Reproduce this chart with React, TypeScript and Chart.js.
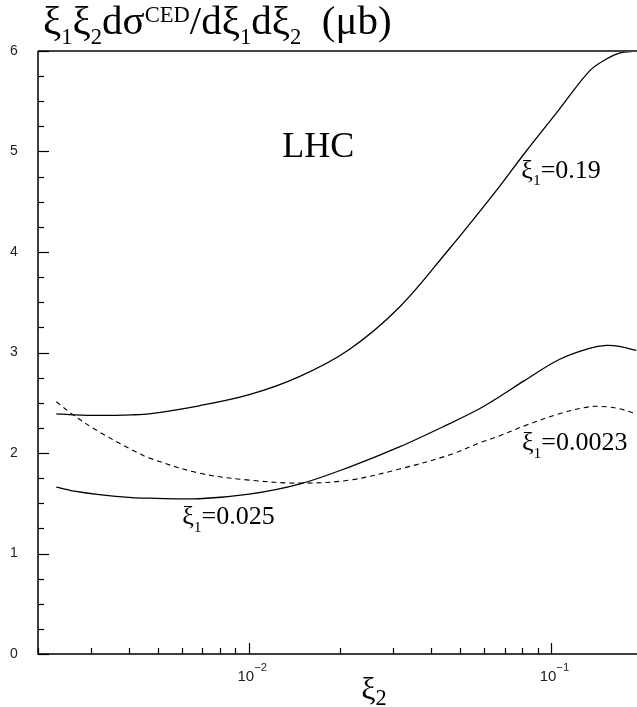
import React, { useEffect, useRef } from 'react';
import { Chart, registerables } from 'chart.js';

Chart.register(...registerables);

// ξ2 sample points (shared by all curves)
const xi2 = [0.0023, 0.00264, 0.00319, 0.0041, 0.00467, 0.00683, 0.01, 0.01465, 0.02144, 0.0314, 0.0459, 0.0578, 0.0673, 0.0814, 0.1062, 0.1336, 0.152, 0.168, 0.191];
// ξ1ξ2 dσ/dξ1dξ2 (μb)
const xsecXi1_019 = [2.39, 2.38, 2.375, 2.38, 2.39, 2.47, 2.58, 2.76, 3.03, 3.45, 4.03, 4.4, 4.65, 4.98, 5.42, 5.8, 5.92, 5.98, 6.0];
const xsecXi1_0025 = [1.66, 1.62, 1.585, 1.555, 1.55, 1.545, 1.59, 1.69, 1.86, 2.06, 2.29, 2.44, 2.56, 2.72, 2.93, 3.04, 3.07, 3.06, 3.02];
const xsecXi1_00023 = [2.51, 2.37, 2.21, 2.03, 1.95, 1.8, 1.73, 1.7, 1.73, 1.84, 1.98, 2.1, 2.17, 2.27, 2.39, 2.46, 2.46, 2.44, 2.39];

const yMajorTicks = [0, 1, 2, 3, 4, 5, 6];
const yMinorStep = 0.25;
const xMajorTicks = [0.01, 0.1];
const xMajorExponents = ['\u22122', '\u22121'];
const xRange = [0.002, 0.192];
const yRange = [0, 6];

const curveLabels = [
  { value: '0.19', x: 0.0795, y: 4.74 },
  { value: '0.0023', x: 0.0799, y: 2.03 },
  { value: '0.025', x: 0.006, y: 1.29 },
];
const experimentLabel = { text: 'LHC', x: 0.01286, y: 4.95 };

const SERIF = '"Liberation Serif", "DejaVu Serif", serif';
const SANS = '"Liberation Sans", Arial, sans-serif';

type Seg = { t: string; k: 'n' | 'sub' | 'sup' };
type RichOpts = { scale?: number; subOff?: number; supOff?: number; align?: 'left' | 'center' };

function segSize(s: Seg, size: number, o: RichOpts) {
  return s.k === 'n' ? size : size * (o.scale ?? 0.5);
}

function richWidth(ctx: CanvasRenderingContext2D, segs: Seg[], size: number, fam: string, o: RichOpts) {
  let w = 0;
  for (const s of segs) {
    ctx.font = `${segSize(s, size, o)}px ${fam}`;
    w += ctx.measureText(s.t).width;
  }
  return w;
}

function drawRich(ctx: CanvasRenderingContext2D, segs: Seg[], x: number, y: number, size: number, fam: string, o: RichOpts = {}) {
  let cx = x;
  if (o.align === 'center') cx = x - richWidth(ctx, segs, size, fam, o) / 2;
  ctx.textAlign = 'left';
  ctx.textBaseline = 'alphabetic';
  for (const s of segs) {
    ctx.font = `${segSize(s, size, o)}px ${fam}`;
    const dy = s.k === 'sub' ? size * (o.subOff ?? 0.28) : s.k === 'sup' ? -size * (o.supOff ?? 0.4) : 0;
    ctx.fillText(s.t, cx, y + dy);
    cx += ctx.measureText(s.t).width;
  }
}

const axesPlugin = {
  id: 'axesPlugin',
  afterDatasetsDraw(chart: any) {
    const ctx: CanvasRenderingContext2D = chart.ctx;
    const xs = chart.scales.x;
    const ys = chart.scales.y;
    const { left, right, top, bottom } = chart.chartArea;
    ctx.save();

    // top frame line
    ctx.strokeStyle = '#444';
    ctx.lineWidth = 2;
    ctx.beginPath();
    ctx.moveTo(left, top);
    ctx.lineTo(right, top);
    ctx.stroke();

    ctx.strokeStyle = '#000';
    ctx.lineWidth = 1.5;
    ctx.beginPath();
    ctx.moveTo(left, top);
    ctx.lineTo(left, bottom);
    ctx.lineTo(right, bottom);
    ctx.stroke();

    // y ticks
    ctx.lineWidth = 1.2;
    for (let v = yRange[0]; v <= yRange[1] + 1e-9; v += yMinorStep) {
      const py = Math.round(ys.getPixelForValue(v)) + 0.5;
      const major = Math.abs(v - Math.round(v)) < 1e-9;
      ctx.beginPath();
      ctx.moveTo(left, py);
      ctx.lineTo(left + (major ? 11 : 6), py);
      ctx.stroke();
    }
    ctx.font = `14px ${SANS}`;
    ctx.fillStyle = '#222';
    ctx.textAlign = 'center';
    ctx.textBaseline = 'middle';
    for (const v of yMajorTicks) {
      ctx.fillText(String(v), 14, ys.getPixelForValue(v));
    }

    // x ticks
    const decades = [-3, -2, -1];
    for (const d of decades) {
      for (let m = 1; m <= 9; m++) {
        const v = m * Math.pow(10, d);
        if (v < xRange[0] * 0.999 || v > xRange[1]) continue;
        const px = Math.round(xs.getPixelForValue(v)) + 0.5;
        const major = m === 1;
        ctx.beginPath();
        ctx.moveTo(px, bottom);
        ctx.lineTo(px, bottom - (major ? 11 : 6));
        ctx.stroke();
      }
    }
    ctx.fillStyle = '#222';
    xMajorTicks.forEach((v, i) => {
      const px = xs.getPixelForValue(v);
      drawRich(ctx, [{ t: '10', k: 'n' }, { t: xMajorExponents[i], k: 'sup' }], px + 3, 681, 15, SANS,
        { align: 'center', scale: 0.75, supOff: 0.68 });
    });

    // titles
    ctx.fillStyle = '#000';
    drawRich(ctx, [
      { t: 'ξ', k: 'n' }, { t: '1', k: 'sub' }, { t: 'ξ', k: 'n' }, { t: '2', k: 'sub' },
      { t: 'dσ', k: 'n' }, { t: 'CED', k: 'sup' }, { t: '/dξ', k: 'n' }, { t: '1', k: 'sub' },
      { t: 'dξ', k: 'n' }, { t: '2', k: 'sub' }, { t: '  (μb)', k: 'n' },
    ], 43, 34, 41, SERIF, { scale: 0.55, subOff: 0.25, supOff: 0.3 });
    drawRich(ctx, [{ t: 'ξ', k: 'n' }, { t: '2', k: 'sub' }], 374, 699, 32, SERIF,
      { align: 'center', scale: 0.7, subOff: 0.2 });

    // annotations
    ctx.font = `36px ${SERIF}`;
    ctx.textAlign = 'left';
    ctx.textBaseline = 'alphabetic';
    ctx.fillText(experimentLabel.text, xs.getPixelForValue(experimentLabel.x), ys.getPixelForValue(experimentLabel.y));
    for (const l of curveLabels) {
      drawRich(ctx, [{ t: 'ξ', k: 'n' }, { t: '1', k: 'sub' }, { t: '=' + l.value, k: 'n' }],
        xs.getPixelForValue(l.x), ys.getPixelForValue(l.y), 26, SERIF, { scale: 0.6, subOff: 0.3 });
    }
    ctx.restore();
  },
};

export default function App() {
  const ref = useRef<HTMLCanvasElement | null>(null);
  useEffect(() => {
    document.body.style.margin = '0';
    const canvas = ref.current!;
    const mk = (arr: number[]) => xi2.map((x, i) => ({ x, y: arr[i] }));
    const common = { borderColor: '#000', pointRadius: 0, tension: 0.35, fill: false };
    const chart = new Chart(canvas, {
      type: 'line',
      data: {
        datasets: [
          { label: 'ξ1=0.19', data: mk(xsecXi1_019), borderWidth: 1.3, ...common },
          { label: 'ξ1=0.025', data: mk(xsecXi1_0025), borderWidth: 1.3, ...common },
          { label: 'ξ1=0.0023', data: mk(xsecXi1_00023), borderWidth: 1.1, borderDash: [5, 4], ...common },
        ],
      },
      options: {
        responsive: false,
        animation: false,
        devicePixelRatio: 1,
        layout: { padding: { left: 38, top: 51, right: 0, bottom: 53 } },
        plugins: { legend: { display: false }, tooltip: { enabled: false }, title: { display: false } },
        scales: {
          x: { type: 'logarithmic', min: xRange[0], max: xRange[1], display: false },
          y: { type: 'linear', min: yRange[0], max: yRange[1], display: false },
        },
      } as any,
      plugins: [axesPlugin],
    });
    return () => chart.destroy();
  }, []);
  return <canvas ref={ref} width={637} height={707} style={{ display: 'block', width: 637, height: 707 }} />;
}
